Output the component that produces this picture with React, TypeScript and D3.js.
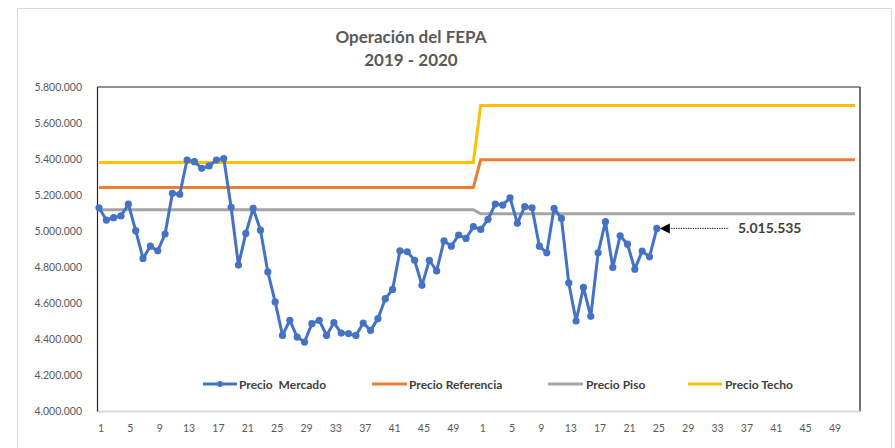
import React from "react";
import * as d3 from "d3";

const weeks2019: number[] = d3.range(1, 53);
const weeks2020: number[] = d3.range(1, 53);

const mercado2019: number[] = [
  5130000, 5062000, 5075000, 5085000, 5150000, 5003000, 4849000, 4917000, 4891000, 4984000,
  5210000, 5205000, 5395000, 5386000, 5349000, 5362000, 5395000, 5403000, 5133000, 4812000,
  4988000, 5127000, 5006000, 4774000, 4608000, 4422000, 4506000, 4413000, 4385000, 4487000,
  4506000, 4422000, 4493000, 4435000, 4432000, 4422000, 4491000, 4450000, 4515000, 4626000,
  4677000, 4891000, 4886000, 4839000, 4700000, 4839000, 4780000, 4947000, 4917000, 4979000,
  4960000, 5025000,
];
const mercado2020: number[] = [
  5010000, 5066000, 5151000, 5145000, 5185000, 5044000, 5136000, 5130000, 4917000, 4880000,
  5127000, 5071000, 4713000, 4502000, 4688000, 4528000, 4880000, 5053000, 4799000, 4975000,
  4928000, 4789000, 4890000, 4858000, 5015535,
];

const referencia: number[] = [5243000, 5396000]; // 2019, 2020
const piso: number[] = [5119000, 5097000];
const techo: number[] = [5381000, 5698000];

const yTicks: number[] = [4000000, 4200000, 4400000, 4600000, 4800000, 5000000, 5200000, 5400000, 5600000, 5800000];
const xTickWeeks: number[] = [1, 5, 9, 13, 17, 21, 25, 29, 33, 37, 41, 45, 49];

const seriesNames = ["Precio  Mercado", "Precio Referencia", "Precio Piso", "Precio Techo"];
const colors = ["#4472C4", "#ED7D31", "#A5A5A5", "#FFC000"];
const annotationValue = 5015535;

const font = "Lato, 'Open Sans', 'Liberation Sans', sans-serif";

function fmt(v: number): string {
  return String(Math.round(v)).replace(/\B(?=(\d{3})+(?!\d))/g, ".");
}

export default function App() {
  const W = 895, H = 448;
  const nCat = weeks2019.length + weeks2020.length;
  const x = d3.scaleLinear().domain([0, nCat - 1]).range([99, 99 + (nCat - 1) * 7.34]);
  const y = d3.scaleLinear().domain([4000000, 5800000]).range([411.5, 87]);
  const plotL = 97.5, plotR = 860, plotT = 87, plotB = 411.5;

  const mercado = [...mercado2019, ...mercado2020].map((v, i) => ({ i, v }));
  const flat = (arr: number[]) =>
    [...weeks2019.map(() => arr[0]), ...weeks2020.map(() => arr[1])].map((v, i) => ({ i, v }));

  const line = d3.line<{ i: number; v: number }>().x(d => x(d.i)).y(d => y(d.v));

  const lastIdx = mercado.length - 1;
  const ax = x(lastIdx), ay = y(annotationValue);

  const legendPos = [
    { x1: 203, x2: 237, tx: 239 },
    { x1: 372, x2: 407, tx: 409 },
    { x1: 548, x2: 583, tx: 586 },
    { x1: 688, x2: 722, tx: 725 },
  ];

  const xLabels = [
    ...xTickWeeks.map(w => ({ i: w - 1, t: String(w) })),
    ...xTickWeeks.map(w => ({ i: weeks2019.length + w - 1, t: String(w) })),
  ];

  return (
    <svg width={W} height={H} style={{ position: "absolute", left: 0, top: 0, background: "#fff" }} fontFamily={font}>
      <rect x={17.5} y={8.5} width={874} height={460} fill="#fff" stroke="#d9d9d9" strokeWidth={1} />
      <text x={411} y={43} textAnchor="middle" fontSize={17} fontWeight="bold" fill="#595959">Operación del FEPA</text>
      <text x={411} y={66} textAnchor="middle" fontSize={17} fontWeight="bold" fill="#595959">2019 - 2020</text>

      {/* plot frame */}
      <line x1={plotL} x2={plotR} y1={plotT} y2={plotT} stroke="#262626" strokeWidth={1} />
      <line x1={plotR} x2={plotR} y1={plotT} y2={plotB} stroke="#404040" strokeWidth={1.5} />
      <line x1={plotL} x2={plotR} y1={plotB} y2={plotB} stroke="#d9d9d9" strokeWidth={2} />
      <line x1={plotL} x2={plotL} y1={plotT} y2={plotB} stroke="#262626" strokeWidth={1.2} />

      {yTicks.map(t => (
        <text key={t} x={82} y={y(t) + 3.5} textAnchor="end" fontSize={10.5} fill="#595959">{fmt(t)}</text>
      ))}
      {xLabels.map((d, k) => (
        <text key={k} x={x(d.i) + 2} y={432} textAnchor="middle" fontSize={10.5} fill="#595959">{d.t}</text>
      ))}

      <path d={line(flat(piso)) || ""} fill="none" stroke={colors[2]} strokeWidth={3} />
      <path d={line(flat(referencia)) || ""} fill="none" stroke={colors[1]} strokeWidth={3} />
      <path d={line(flat(techo)) || ""} fill="none" stroke={colors[3]} strokeWidth={3} />
      <path d={line(mercado) || ""} fill="none" stroke={colors[0]} strokeWidth={3} strokeLinejoin="round" />
      {mercado.map(d => (
        <circle key={d.i} cx={x(d.i)} cy={y(d.v)} r={3.6} fill={colors[0]} />
      ))}

      {/* annotation */}
      <line x1={ax + 12} x2={729} y1={ay} y2={ay} stroke="#000" strokeWidth={1} strokeDasharray="1.2,1.2" />
      <path d={`M${ax + 3},${ay} L${ax + 13},${ay - 5} L${ax + 13},${ay + 5} Z`} fill="#000" />
      <text x={738} y={ay + 5} fontSize={14} fontWeight="bold" fill="#404040">{fmt(annotationValue)}</text>

      {/* legend */}
      {legendPos.map((p, k) => (
        <g key={k}>
          <line x1={p.x1} x2={p.x2} y1={384} y2={384} stroke={colors[k]} strokeWidth={3} />
          {k === 0 && <circle cx={(p.x1 + p.x2) / 2} cy={384} r={3} fill={colors[0]} />}
          <text x={p.tx} y={388.5} fontSize={12} fontWeight="bold" fill="#404040" style={{ whiteSpace: "pre" }}>{seriesNames[k]}</text>
        </g>
      ))}
    </svg>
  );
}
